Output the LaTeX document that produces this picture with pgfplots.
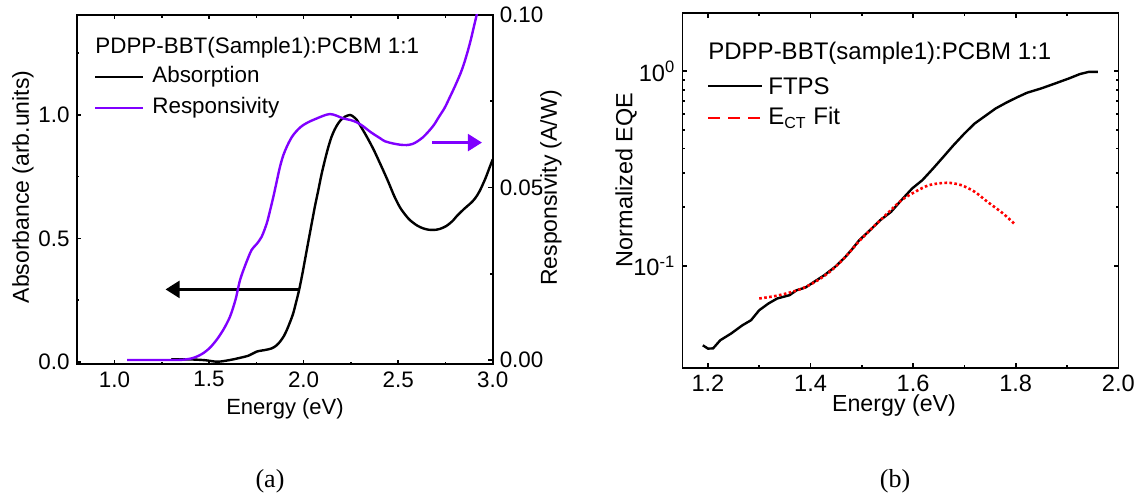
\documentclass[border=0pt]{standalone}
\usepackage{fontspec}
\setmainfont{Liberation Sans}
\newfontfamily\timesf{Liberation Serif}
\usepackage{pgfplots}
\pgfplotsset{compat=1.18}
\usetikzlibrary{arrows.meta}
\definecolor{resp}{RGB}{128,0,255}
\definecolor{fitred}{RGB}{255,0,0}

\pgfplotstableread{
E A
1.30 0.010
1.41 0.009
1.48 0.006
1.545 0.000
1.611 0.007
1.66 0.015
1.71 0.025
1.752 0.041
1.80 0.048
1.831 0.054
1.855 0.065
1.875 0.081
1.895 0.103
1.911 0.128
1.928 0.160
1.945 0.196
1.960 0.240
1.976 0.290
1.992 0.350
2.007 0.412
2.025 0.487
2.043 0.561
2.060 0.630
2.078 0.696
2.095 0.760
2.113 0.818
2.130 0.868
2.148 0.912
2.165 0.942
2.183 0.966
2.200 0.982
2.219 0.993
2.245 1.000
2.263 0.993
2.281 0.980
2.305 0.950
2.334 0.912
2.37 0.860
2.404 0.804
2.43 0.760
2.45 0.725
2.48 0.670
2.51 0.625
2.54 0.593
2.565 0.572
2.60 0.552
2.63 0.541
2.66 0.535
2.69 0.534
2.72 0.538
2.755 0.550
2.79 0.572
2.81 0.590
2.85 0.620
2.88 0.640
2.905 0.660
2.93 0.690
2.96 0.740
2.98 0.780
3.00 0.820
}\absdata

\pgfplotstableread{
E R
1.066 0.0000
1.20 0.0000
1.336 0.0000
1.38 0.0002
1.41 0.0005
1.44 0.0011
1.47 0.0020
1.50 0.0033
1.525 0.0048
1.55 0.0066
1.58 0.0092
1.611 0.0126
1.64 0.0175
1.664 0.0232
1.695 0.0280
1.725 0.0319
1.750 0.0335
1.778 0.0357
1.805 0.0396
1.822 0.0432
1.840 0.0473
1.858 0.0518
1.875 0.0560
1.893 0.0594
1.911 0.0618
1.928 0.0637
1.945 0.0652
1.970 0.0668
1.998 0.0681
2.035 0.0692
2.069 0.0700
2.105 0.0708
2.140 0.0713
2.175 0.0708
2.210 0.0700
2.245 0.0696
2.281 0.0689
2.316 0.0677
2.351 0.0662
2.378 0.0652
2.404 0.0643
2.43 0.0634
2.47 0.0628
2.51 0.0624
2.545 0.0623
2.575 0.0626
2.60 0.0633
2.63 0.0645
2.66 0.0662
2.69 0.0682
2.716 0.0705
2.745 0.0730
2.77 0.0758
2.80 0.0793
2.83 0.0831
2.85 0.0862
2.87 0.0899
2.885 0.0930
2.90 0.0965
2.915 0.1000
2.93 0.1040
}\respdata

\pgfplotstableread{
E Q
1.19 0.0391
1.20 0.0376
1.21 0.0377
1.224 0.0415
1.245 0.0449
1.267 0.0495
1.284 0.0526
1.30 0.0592
1.318 0.0641
1.335 0.0680
1.359 0.0707
1.373 0.0750
1.39 0.0774
1.407 0.0828
1.427 0.0896
1.448 0.0989
1.468 0.1112
1.482 0.1227
1.495 0.1355
1.516 0.1525
1.536 0.1717
1.557 0.1894
1.577 0.2173
1.598 0.2495
1.618 0.2754
1.639 0.3162
1.659 0.363
1.679 0.417
1.70 0.478
1.72 0.538
1.74 0.587
1.761 0.643
1.781 0.687
1.802 0.732
1.822 0.774
1.85 0.815
1.877 0.864
1.904 0.917
1.925 0.965
1.942 0.990
1.96 0.990
}\ftpsdata

\pgfplotstableread{
E F
1.30 0.0680
1.33 0.0699
1.359 0.0729
1.386 0.0770
1.414 0.0843
1.441 0.0948
1.468 0.1112
1.495 0.1340
1.523 0.1590
1.55 0.1860
1.577 0.2170
1.604 0.2400
1.632 0.2600
1.666 0.2670
1.693 0.2600
1.72 0.2400
1.745 0.2130
1.775 0.1860
1.80 0.1620
}\fitdata

\begin{document}
\begin{tikzpicture}
\useasboundingbox (0,0) rectangle (573.5pt,-248.5pt);
\pgfplotsset{
 every axis/.append style={scale only axis,
   axis line style={line width=0.8pt},
   every tick/.style={line width=0.8pt,black},
   major tick length=2.2pt, minor tick length=1.3pt,
   tick align=inside,
   /pgf/number format/assume math mode=true},
}
% ---------------- panel (a) ----------------
\begin{axis}[at={(38.35pt,-182.15pt)}, anchor=south west,
 width=208pt, height=174.65pt,
 xmin=0.8, xmax=3.0, ymin=-0.0105, ymax=1.405,
 xtick={1,1.5,2,2.5,3}, minor xtick={1.25,1.75,2.25,2.75},
 ytick={0,0.5,1}, minor ytick={0.25,0.75,1.25}, ytick pos=left,
 xticklabel style={/pgf/number format/.cd,fixed,fixed zerofill,precision=1},
 yticklabel style={/pgf/number format/.cd,fixed,fixed zerofill,precision=1},
 tick label style={font=\fontsize{11.2}{13}\selectfont},
]
\addplot[black, line width=1.2pt, smooth] table[x=E,y=A] {\absdata};
\draw[black, line width=1.2pt, -{Triangle[length=7pt,width=8.5pt]}] (axis cs:1.98,0.293) -- (axis cs:1.27,0.293);
\draw[resp, line width=1.2pt, -{Triangle[length=7pt,width=8.5pt]}] (axis cs:2.679,0.888) -- (axis cs:2.943,0.888);
\end{axis}
\begin{axis}[at={(38.35pt,-182.15pt)}, anchor=south west,
 width=208pt, height=174.65pt,
 xmin=0.8, xmax=3.0, ymin=-0.00125, ymax=0.1,
 axis x line=none, axis y line*=right,
 ytick={0,0.05,0.1}, minor ytick={0.025,0.075},
 yticklabel style={/pgf/number format/.cd,fixed,fixed zerofill,precision=2},
 tick label style={font=\fontsize{11.2}{13}\selectfont},
]
\addplot[resp, line width=1.2pt, smooth] table[x=E,y=R] {\respdata};
\end{axis}
% legend (a)
\node[anchor=west, inner sep=0pt, font=\fontsize{11.2}{13}\selectfont] at (47.5pt,-24pt) {PDPP-BBT(Sample1):PCBM 1:1};
\draw[black, line width=1.2pt] (47.5pt,-38.5pt) -- (71.5pt,-38.5pt);
\node[anchor=west, inner sep=0pt, font=\fontsize{11.2}{13}\selectfont] at (76pt,-38.5pt) {Absorption};
\draw[resp, line width=1.2pt] (47.5pt,-54pt) -- (71.5pt,-54pt);
\node[anchor=west, inner sep=0pt, font=\fontsize{11.2}{13}\selectfont] at (76pt,-54pt) {Responsivity};
% labels (a)
\node[rotate=90, font=\fontsize{11.5}{13}\selectfont] at (11.5pt,-93.5pt) {Absorbance (arb.units)};
\node[rotate=90, font=\fontsize{11.5}{13}\selectfont] at (275.5pt,-94pt) {Responsivity (A/W)};
\node[font=\fontsize{11}{13}\selectfont] at (142.5pt,-204.5pt) {Energy (eV)};
\node[font=\timesf\fontsize{13}{15}\selectfont] at (135pt,-240.5pt) {(a)};

% ---------------- panel (b) ----------------
\begin{axis}[at={(341.15pt,-183.85pt)}, anchor=south west,
 width=218pt, height=177.2pt,
 ymode=log,
 xmin=1.15, xmax=2.0, ymin=0.03, ymax=1.98,
 xtick={1.2,1.4,1.6,1.8,2.0}, minor xtick={1.3,1.5,1.7,1.9},
 ytick={0.1,1}, yticklabels={10\textsuperscript{-1},10\textsuperscript{0}},
 xticklabel style={/pgf/number format/.cd,fixed,fixed zerofill,precision=1},
 tick label style={font=\fontsize{11.8}{14}\selectfont},
]
\addplot[black, line width=1.2pt] table[x=E,y=Q] {\ftpsdata};
\addplot[fitred, line width=1.3pt, dash pattern=on 1.3pt off 1.2pt, smooth] table[x=E,y=F] {\fitdata};
\end{axis}
% legend (b)
\node[anchor=west, inner sep=0pt, font=\fontsize{12}{14}\selectfont] at (354pt,-26.5pt) {PDPP-BBT(sample1):PCBM 1:1};
\draw[black, line width=1.2pt] (354pt,-43pt) -- (381pt,-43pt);
\node[anchor=west, inner sep=0pt, font=\fontsize{12}{14}\selectfont] at (384pt,-43pt) {FTPS};
\draw[fitred, line width=1.3pt, dash pattern=on 5.8pt off 4.2pt] (354pt,-59pt) -- (381pt,-59pt);
\node[anchor=west, inner sep=0pt, font=\fontsize{12}{14}\selectfont] at (384pt,-59pt) {E\textsubscript{CT} Fit};
% labels (b)
\node[rotate=90, font=\fontsize{11.7}{14}\selectfont] at (313pt,-90pt) {Normalized EQE};
\node[font=\fontsize{11.6}{14}\selectfont] at (447pt,-203pt) {Energy (eV)};
\node[font=\timesf\fontsize{13}{15}\selectfont] at (447.5pt,-240.5pt) {(b)};
\end{tikzpicture}
\end{document}
